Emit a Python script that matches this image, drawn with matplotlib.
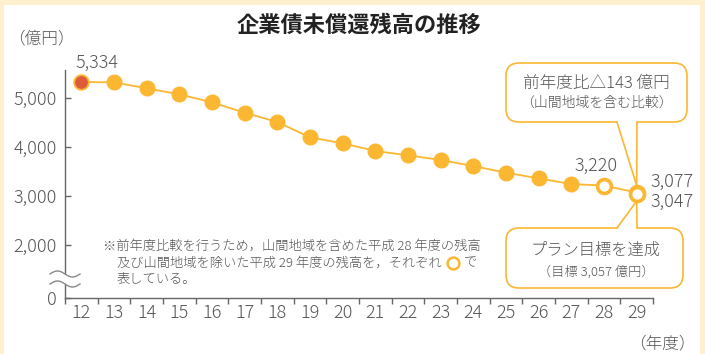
import matplotlib
matplotlib.use('Agg')
import matplotlib.pyplot as plt
from matplotlib.patches import FancyBboxPatch, Polygon, Rectangle
from matplotlib.lines import Line2D
import numpy as np

plt.rcParams['font.family'] = ['Noto Sans CJK JP', 'DejaVu Sans']
plt.rcParams['font.weight'] = 'light'

# ---------------- data ----------------
years = list(range(12, 30))
tick_labels = [str(y) for y in years]
filled_years = list(range(12, 28))
filled_values = [5334, 5325, 5204, 5082, 4918, 4706, 4516, 4204, 4082,
                 3925, 3837, 3741, 3618, 3482, 3367, 3250]
open_years = [28, 29, 29]
open_values = [3220, 3077, 3047]
line_years = filled_years + [28, 29]
line_values = filled_values + [3220, 3077]
y_ticks = [2000, 3000, 4000, 5000]
y_tick_labels = ['2,000', '3,000', '4,000', '5,000']
y_zero_pos = 925

ORANGE = '#FBB731'
RED = '#DE5B3C'
TXT = '#555555'
AX = '#666666'
CREAM = '#FEF0CF'

W, H = 705, 354
fig = plt.figure(figsize=(W / 100, H / 100), dpi=100)
fig.patch.set_facecolor('white')
T = fig.dpi_scale_trans


def P(x, y):
    """pixel (from top-left) -> inches for dpi_scale_trans"""
    return (x / 100.0, (H - y) / 100.0)


# cream frame
for (x, y, w, h) in [(0, 0, W, 5), (0, 0, 4, H), (700, 0, 5, H)]:
    fig.add_artist(Rectangle(P(x, y + h), w / 100, h / 100, transform=T,
                             facecolor=CREAM, edgecolor='none', zorder=-5))

ax = fig.add_axes([65 / W, 1 - 298 / H, (653 - 65) / W, (298 - 70) / H])
ax.set_facecolor('none')
ax.set_xlim(11.5, 29.5)
ax.set_ylim(y_zero_pos, 5578)

ax.plot(line_years, line_values, color=ORANGE, lw=1.3, zorder=2)
ax.plot(filled_years[1:], filled_values[1:], 'o', ms=10.5, color=ORANGE, zorder=3)
ax.plot(filled_years[:1], filled_values[:1], 'o', ms=10.5, mfc=RED, mec=ORANGE,
        mew=1.3, zorder=3)
ax.plot(open_years, open_values, 'o', ms=10, mfc='white', mec=ORANGE, mew=2.6, zorder=4)

for s in ['top', 'right']:
    ax.spines[s].set_visible(False)
for s in ['left', 'bottom']:
    ax.spines[s].set_color(AX)
    ax.spines[s].set_linewidth(1.0)

ax.set_yticks([y_zero_pos] + y_ticks)
ax.set_yticklabels(['0'] + y_tick_labels)
ax.tick_params(axis='y', direction='in', length=4.5, width=1, color=AX,
               labelsize=13, labelcolor=TXT, pad=6)
ax.set_xticks(years)
ax.set_xticklabels(tick_labels)
ax.set_xticks(np.arange(11.5, 30, 1), minor=True)
ax.tick_params(axis='x', which='major', length=0, labelsize=13, labelcolor=TXT, pad=4)
ax.tick_params(axis='x', which='minor', direction='out', length=4.5, width=1, color=AX)

# value labels
ax.annotate('5,334', (filled_years[0], filled_values[0]), xytext=(11, 14),
            textcoords='offset points', ha='center', va='center', fontsize=13, color=TXT)
ax.annotate('3,220', (open_years[0], open_values[0]), xytext=(-6, 14),
            textcoords='offset points', ha='center', va='center', fontsize=13, color=TXT)
ax.annotate('3,077', (open_years[1], open_values[1]), xytext=(10, 8),
            textcoords='offset points', ha='left', va='center', fontsize=13, color=TXT)
ax.annotate('3,047', (open_years[2], open_values[2]), xytext=(10, -6),
            textcoords='offset points', ha='left', va='center', fontsize=13, color=TXT)

# titles
fig.text(359 / W, 1 - 25 / H, '企業債未償還残高の推移', ha='center', va='center',
         fontsize=16, fontweight='bold', color='#222222')
fig.text(8 / W, 1 - 39 / H, '（億円）', ha='left', va='center', fontsize=12, color=TXT)
fig.text(696 / W, 1 - 344 / H, '（年度）', ha='right', va='center', fontsize=12, color=TXT)

# break marks on y axis
xs = np.linspace(50, 80, 60)
wave = 3 * np.sin(2 * np.pi * (xs - 50) / 30)
y1 = 274 - wave
y2 = 284 - wave
poly = [P(x, y) for x, y in zip(xs, y1)] + [P(x, y) for x, y in zip(xs[::-1], y2[::-1])]
fig.add_artist(Polygon(poly, closed=True, transform=T, facecolor='white',
                       edgecolor='none', zorder=5))
for yy in (y1, y2):
    pts = np.array([P(x, y) for x, y in zip(xs, yy)])
    fig.add_artist(Line2D(pts[:, 0], pts[:, 1], transform=T, color='#888888',
                          lw=1.0, zorder=6))


# callouts
def tip_px(xd, yd, dy):
    d = ax.transData.transform((xd, yd))
    return d[0], H - d[1] + dy


def callout(x0, y0, x1, y1, bx0, bx1, tip, edge_y, inward):
    fig.add_artist(FancyBboxPatch(P(x0, y1), (x1 - x0) / 100, (y1 - y0) / 100,
                                  boxstyle='round,pad=0,rounding_size=0.13',
                                  transform=T, facecolor='white', edgecolor=ORANGE,
                                  lw=1.2, zorder=5))
    fig.add_artist(Polygon([P(bx0, edge_y + inward), P(bx1, edge_y + inward), P(*tip)],
                           closed=True, transform=T, facecolor='white',
                           edgecolor='none', zorder=6))
    for bx in (bx0, bx1):
        a, b = P(bx, edge_y), P(*tip)
        fig.add_artist(Line2D([a[0], b[0]], [a[1], b[1]], transform=T, color=ORANGE,
                              lw=1.2, zorder=7))


tx, ty = tip_px(open_years[1], open_values[1], -7)
callout(506, 63, 687, 122, 617, 637, (tx, ty), 122, -1.5)
tx2, ty2 = tip_px(open_years[2], open_values[2], 7)
callout(506, 228, 683, 288, 617, 637, (tx2, ty2), 228, 1.5)

fig.text(596 / W, 1 - 83 / H, '前年度比△143 億円', ha='center', va='center',
         fontsize=12, color=TXT, zorder=8)
fig.text(596 / W, 1 - 103 / H, '（山間地域を含む比較）', ha='center', va='center',
         fontsize=10, color=TXT, zorder=8)
fig.text(596 / W, 1 - 250 / H, 'プラン目標を達成', ha='center', va='center',
         fontsize=11.7, color=TXT, zorder=8)
fig.text(596 / W, 1 - 272 / H, '（目標 3,057 億円）', ha='center', va='center',
         fontsize=9.5, color=TXT, zorder=8)

# note
NOTE_FS = 9.55
fig.text(103 / W, 1 - 246 / H, '※前年度比較を行うため，山間地域を含めた平成 28 年度の残高',
         ha='left', va='center', fontsize=NOTE_FS, color=TXT)
fig.text(117 / W, 1 - 263 / H, '及び山間地域を除いた平成 29 年度の残高を，それぞれ',
         ha='left', va='center', fontsize=NOTE_FS, color=TXT)
ring = P(453, 263)
fig.add_artist(Line2D([ring[0]], [ring[1]], transform=T, marker='o', ms=8.5,
                      mfc='white', mec=ORANGE, mew=1.8, zorder=5))
fig.text(464 / W, 1 - 263 / H, 'で', ha='left', va='center', fontsize=NOTE_FS, color=TXT)
fig.text(117 / W, 1 - 279 / H, '表している。', ha='left', va='center', fontsize=NOTE_FS, color=TXT)

fig.savefig('out.png', dpi=100)
